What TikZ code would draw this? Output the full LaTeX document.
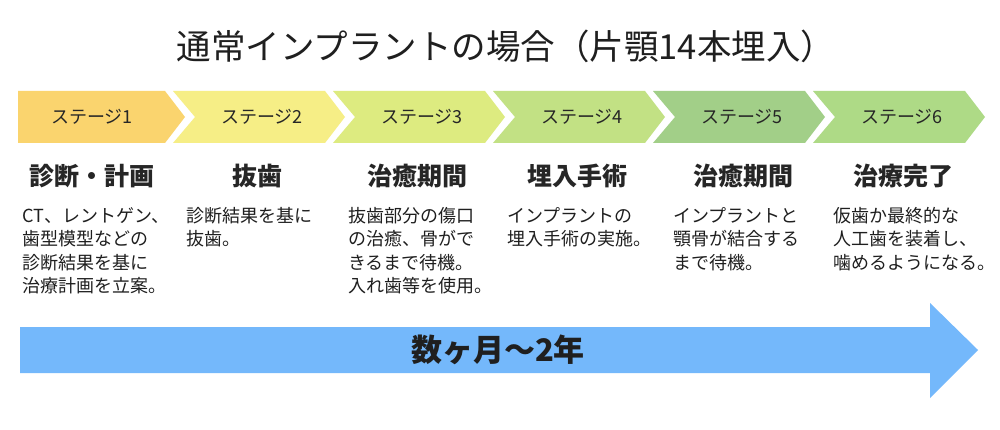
\documentclass[tikz,border=0pt]{standalone}
\usepackage{fontspec}
\newfontfamily\jp{Noto Sans CJK JP}
\definecolor{cA}{HTML}{FAD46E}
\definecolor{cB}{HTML}{F6EE86}
\definecolor{cC}{HTML}{DDEB80}
\definecolor{cD}{HTML}{C2E184}
\definecolor{cE}{HTML}{A2CF88}
\definecolor{cF}{HTML}{AEDA86}
\definecolor{arrowblue}{HTML}{74B8FB}
\begin{document}
\begin{tikzpicture}[x=1pt,y=-1pt,
  stagelabel/.style={font=\jp\fontsize{18}{20}\selectfont, text=black!85, inner sep=0pt, anchor=center},
  heading/.style={font=\jp\bfseries\fontsize{25}{28}\selectfont, text=black!85, inner sep=0pt, anchor=center},
  bodytext/.style={font=\jp\fontsize{18}{23.5}\selectfont, text=black!88, inner sep=0pt, anchor=north west, align=left},
]
\useasboundingbox (0,0) rectangle (1000,430);
\fill[white] (0,0) rectangle (1000,430);
% title
\node[font=\jp\fontsize{34.5}{38}\selectfont, text=black!88, inner sep=0pt] (title) at (506,46) {通常インプラントの場合（片顎14本埋入）};
% chevrons
\fill[cA] (18,91) -- (165,91) -- (185,117) -- (165,143) -- (18,143) -- cycle;
\foreach \i/\c in {1/cB,2/cC,3/cD,4/cE,5/cF}{
  \pgfmathsetmacro{\L}{13+160*\i}
  \fill[\c] (\L,91) -- (\L+152,91) -- (\L+172,117) -- (\L+152,143) -- (\L,143) -- (\L+22,117) -- cycle;
}
\node[stagelabel] (s1) at (92,117) {ステージ1};
\node[stagelabel] (s2) at (262,117) {ステージ2};
\node[stagelabel] (s3) at (422,117) {ステージ3};
\node[stagelabel] (s4) at (582,117) {ステージ4};
\node[stagelabel] (s5) at (742,117) {ステージ5};
\node[stagelabel] (s6) at (902,117) {ステージ6};
% headings
\node[heading] (h1) at (92,176) {診断・計画};
\node[heading] (h2) at (257,176) {抜歯};
\node[heading] (h3) at (417,176) {治癒期間};
\node[heading] (h4) at (577,176) {埋入手術};
\node[heading] (h5) at (743,176) {治癒期間};
\node[heading] (h6) at (903,176) {治療完了};
% body texts
\node[bodytext] (b1) at (22,207) {CT、レントゲン、\\歯型模型などの\\診断結果を基に\\治療計画を立案。};
\node[bodytext] (b2) at (186,207) {診断結果を基に\\抜歯。};
\node[bodytext] (b3) at (348,207) {抜歯部分の傷口\\の治癒、骨がで\\きるまで待機。\\入れ歯等を使用。};
\node[bodytext] (b4) at (507,207) {インプラントの\\埋入手術の実施。};
\node[bodytext] (b5) at (673,207) {インプラントと\\顎骨が結合する\\まで待機。};
\node[bodytext] (b6) at (833,207) {仮歯か最終的な\\人工歯を装着し、\\噛めるようになる。};
% big arrow
\fill[arrowblue] (20,327) -- (930,327) -- (930,303) -- (978,350) -- (930,398) -- (930,373) -- (20,373) -- cycle;
\node[font=\jp\bfseries\fontsize{31}{34}\selectfont, text=black!88, inner sep=0pt] (period) at (498,350) {数ヶ月～2年};
\end{tikzpicture}
\end{document}
